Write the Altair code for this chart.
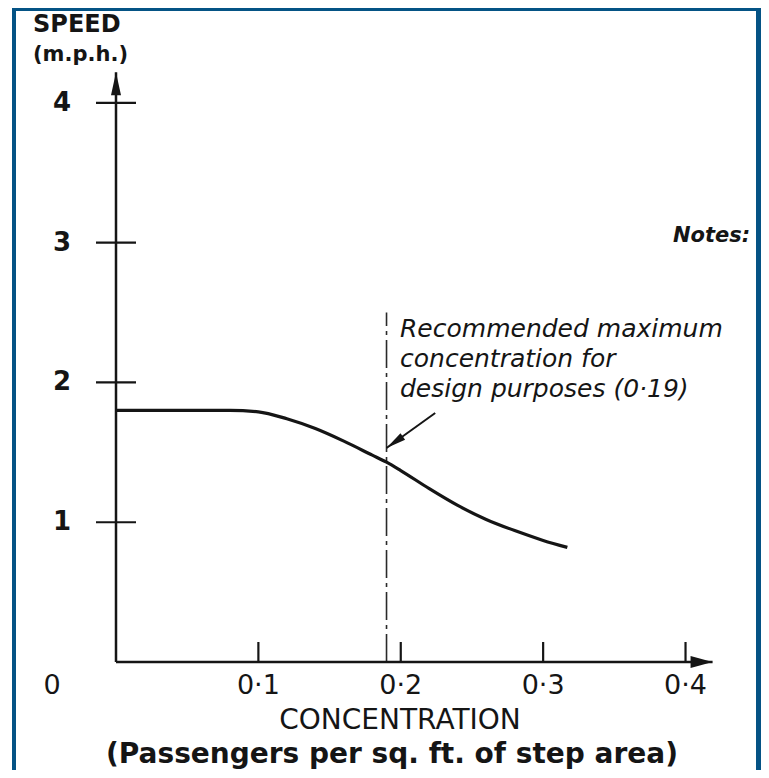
import altair as alt
import pandas as pd

# ---- data ----
conc = [0.0, 0.02, 0.04, 0.06, 0.08, 0.10, 0.12, 0.14, 0.16, 0.18, 0.19,
        0.20, 0.22, 0.24, 0.26, 0.28, 0.30, 0.317]
speed = [1.80, 1.80, 1.80, 1.80, 1.80, 1.79, 1.74, 1.67, 1.58, 1.48, 1.43,
         1.37, 1.24, 1.12, 1.02, 0.94, 0.87, 0.82]

y_tick_values = [1, 2, 3, 4]
y_tick_labels = ["1", "2", "3", "4"]
x_tick_values = [0.1, 0.2, 0.3, 0.4]
x_tick_labels = ["0·1", "0·2", "0·3", "0·4"]

design_max = 0.19
design_line_top = 2.5
note_lines = ["Recommended maximum", "concentration for", "design purposes (0·19)"]
arrow_from = [0.2242, 1.782]
arrow_to = [0.19, 1.531]
y_axis_top = 4.22
x_axis_end = 0.419

# ---- styling ----
XS = alt.Scale(domain=[0, 0.42], nice=False, zero=False)
YS = alt.Scale(domain=[0, 4.25], nice=False, zero=False)
FONT = "DejaVu Sans"
INK = "#151515"
BLUE = "#045385"

one = pd.DataFrame({"k": [0]})


def X(f):
    return alt.X(f, type="quantitative", scale=XS, axis=None)


def Y(f):
    return alt.Y(f, type="quantitative", scale=YS, axis=None)


curve_df = pd.DataFrame({"x": conc, "y": speed})
curve = alt.Chart(curve_df).mark_line(
    interpolate="monotone", color=INK, strokeWidth=3.2
).encode(x=X("x"), y=Y("y"))

axes_df = pd.DataFrame({"x": [0, 0], "y": [0, 0],
                        "x2": [0, x_axis_end], "y2": [y_axis_top, 0]})
axes = alt.Chart(axes_df).mark_rule(color=INK, strokeWidth=2.5).encode(
    x=X("x"), y=Y("y"), x2="x2", y2="y2")

yarrow = alt.Chart(pd.DataFrame({"x": [0], "y": [y_axis_top]})).mark_point(
    shape="M0,0L0.5,2.3L-0.5,2.3Z", size=400, filled=True, color=INK,
    opacity=1, strokeWidth=0, angle=0
).encode(x=X("x"), y=Y("y"))

xarrow = alt.Chart(pd.DataFrame({"x": [x_axis_end], "y": [0]})).mark_point(
    shape="M0,0L0.6,2.2L-0.6,2.2Z", size=400, filled=True, color=INK,
    opacity=1, strokeWidth=0, angle=90
).encode(x=X("x"), y=Y("y"))

ytick_df = pd.DataFrame({"x": [0] * len(y_tick_values), "y": y_tick_values,
                         "lab": y_tick_labels})
yticks = alt.Chart(ytick_df).mark_tick(
    orient="horizontal", size=40, thickness=2.2, color=INK, opacity=1
).encode(x=X("x"), y=Y("y"))
ylabels = alt.Chart(ytick_df).mark_text(
    font=FONT, fontSize=26, fontWeight="bold", color=INK,
    align="center", baseline="middle"
).encode(x=alt.value(-54), y=Y("y"), text="lab:N")

xtick_df = pd.DataFrame({"x": x_tick_values, "y": [0] * len(x_tick_values),
                         "lab": x_tick_labels})
xticks = alt.Chart(xtick_df).mark_tick(
    orient="vertical", size=20, thickness=2.2, yOffset=-10, color=INK, opacity=1
).encode(x=X("x"), y=Y("y"))
xlabels = alt.Chart(xtick_df).mark_text(
    font=FONT, fontSize=27, color=INK, align="center", baseline="middle"
).encode(x=X("x"), y=alt.value(618), text="lab:N")

design_df = pd.DataFrame({"x": [design_max], "y": [0], "y2": [design_line_top]})
design = alt.Chart(design_df).mark_rule(
    color="#2a2a2a", strokeWidth=1.6, strokeDash=[28, 5, 4, 5]
).encode(x=X("x"), y=Y("y"), y2="y2")

arr_df = pd.DataFrame({"x": [arrow_from[0]], "y": [arrow_from[1]],
                       "x2": [arrow_to[0]], "y2": [arrow_to[1]]})
arrline = alt.Chart(arr_df).mark_rule(color=INK, strokeWidth=2).encode(
    x=X("x"), y=Y("y"), x2="x2", y2="y2")
arrhead = alt.Chart(pd.DataFrame({"x": [arrow_to[0]], "y": [arrow_to[1]]})).mark_point(
    shape="M0,0L0.4,2L-0.4,2Z", size=400, filled=True, color=INK,
    opacity=1, strokeWidth=0, angle=234.5
).encode(x=X("x"), y=Y("y"))


def label(txt, px, py, size, weight="normal", style="normal",
          align="left", baseline="alphabetic"):
    return alt.Chart(one).mark_text(
        text=txt, font=FONT, fontSize=size, fontWeight=weight,
        fontStyle=style, align=align, baseline=baseline, color=INK
    ).encode(x=alt.value(px), y=alt.value(py))


def strip(x1, x2, y1, y2):
    return alt.Chart(one).mark_rect(color=BLUE).encode(
        x=alt.value(x1), x2=alt.value(x2), y=alt.value(y1), y2=alt.value(y2))


texts = [
    label("SPEED", -83, -36, 24, weight="bold"),
    label("(m.p.h.)", -83, -7, 21, weight="bold"),
    label("Notes:", 557, 174, 21, weight="bold", style="italic"),
    label(note_lines[0], 284, 269, 25, style="italic"),
    label(note_lines[1], 284, 299, 25, style="italic"),
    label(note_lines[2], 284, 329, 25, style="italic"),
    label("CONCENTRATION", 284, 661, 28, align="center"),
    label("(Passengers per sq. ft. of step area)", 276, 695, 28,
          weight="bold", align="center"),
    label("0", -64, 618, 27, align="center", baseline="middle"),
]

strips = [
    strip(-104, -100, -60, 702),
    strip(-104, 645, -60, -57),
    strip(640, 645, -60, 702),
]

chart = alt.layer(
    *strips, design, curve, axes, yarrow, xarrow, yticks, xticks,
    arrline, arrhead, ylabels, xlabels, *texts
).properties(
    width=598, height=594,
    padding={"left": 108, "top": 60, "right": 47, "bottom": 108},
    autosize=alt.AutoSizeParams(type="none"),
    background="white",
).configure_view(stroke=None)

chart.save("out.html", embed_options={"renderer": "svg", "actions": False})
